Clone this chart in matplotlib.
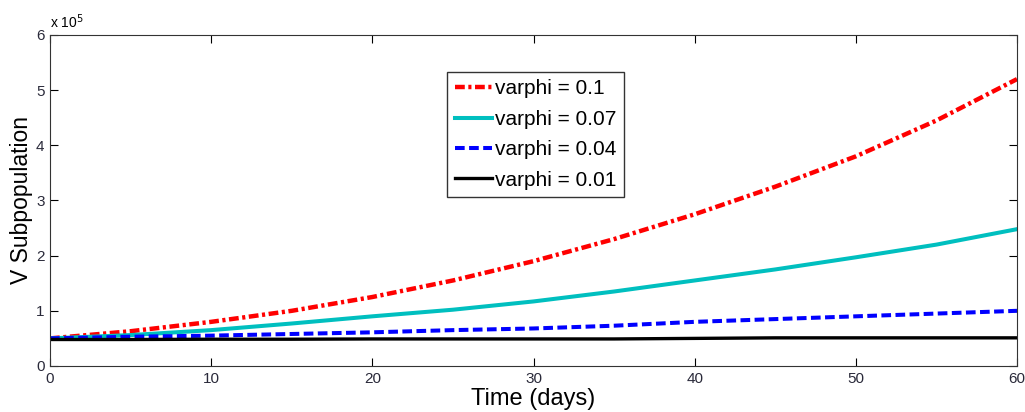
import matplotlib
matplotlib.use("Agg")
import matplotlib.pyplot as plt
import numpy as np

plt.rcParams['font.family'] = ['Liberation Sans', 'DejaVu Sans']

t = [0, 5, 10, 15, 20, 25, 30, 35, 40, 45, 50, 55, 60]
v_01 = [0.50, 0.63, 0.80, 1.00, 1.25, 1.55, 1.90, 2.30, 2.75, 3.25, 3.80, 4.45, 5.20]
v_007 = [0.50, 0.56, 0.65, 0.77, 0.90, 1.02, 1.17, 1.35, 1.55, 1.75, 1.97, 2.20, 2.48]
v_004 = [0.50, 0.53, 0.55, 0.58, 0.61, 0.65, 0.68, 0.73, 0.80, 0.85, 0.90, 0.95, 1.00]
v_001 = [0.48, 0.48, 0.485, 0.485, 0.49, 0.49, 0.49, 0.49, 0.50, 0.51, 0.51, 0.51, 0.51]
labels = ['varphi = 0.1', 'varphi = 0.07', 'varphi = 0.04', 'varphi = 0.01']

scale = 1e5
fig = plt.figure(figsize=(10.25, 4.12), dpi=100)
ax = fig.add_axes([0.0488, 0.1117, 0.9434, 0.8034])

ax.plot(t, np.array(v_01) * scale, color='#ff0000', lw=3.2, linestyle=(0, (2.2, 0.8, 0.7, 0.8)), label=labels[0])
ax.plot(t, np.array(v_007) * scale, color='#00bfbf', lw=2.9, linestyle='-', label=labels[1])
ax.plot(t, np.array(v_004) * scale, color='#0000ff', lw=2.9, linestyle=(0, (2.4, 1.1)), label=labels[2])
ax.plot(t, np.array(v_001) * scale, color='#000000', lw=2.4, linestyle='-', label=labels[3])

ax.set_xlim(0, 60)
ax.set_ylim(0, 6e5)
ax.set_xticks([0, 10, 20, 30, 40, 50, 60])
ax.set_yticks([i * 1e5 for i in range(7)])
ax.set_yticklabels([str(i) for i in range(7)])
ax.tick_params(direction='in', length=6, top=True, right=True, labelsize=11, width=0.8, pad=4,
               labelcolor='#2a2a3a')
for s in ax.spines.values():
    s.set_linewidth(0.8)
    s.set_color('#333333')

ax.text(0.0, 1.012, r'x 10$^{5}$', transform=ax.transAxes, fontsize=10, ha='left', va='bottom')

ax.set_xlabel('Time (days)', fontsize=17, labelpad=2)
ax.set_ylabel('V Subpopulation', fontsize=16.5, labelpad=2)

leg = ax.legend(loc='upper left', bbox_to_anchor=(0.411, 0.888), fontsize=15, frameon=True,
                fancybox=False, edgecolor='black', handlelength=1.8, handletextpad=0.15,
                borderpad=0.35, labelspacing=0.55, borderaxespad=0)
leg.get_frame().set_linewidth(1.0)

fig.savefig('out.png', dpi=100)
